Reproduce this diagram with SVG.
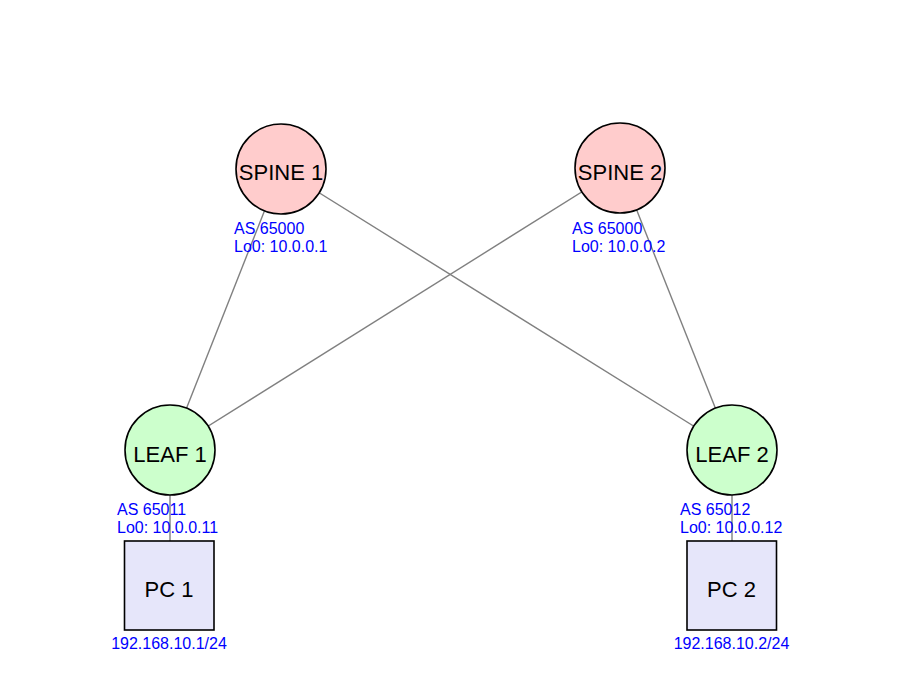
<svg xmlns="http://www.w3.org/2000/svg" width="900" height="675" viewBox="0 0 900 675">
<style>
.edge{stroke:#808080;stroke-width:1.4;fill:none}
.node{stroke:#000;stroke-width:1.6}
.spine{fill:#ffcccc}
.leaf{fill:#ccffcc}
.pc{fill:#e6e6fa}
.lbl{font-family:"Liberation Sans",Arial,sans-serif;font-size:22px;fill:#000;text-anchor:middle}
.info{font-family:"Liberation Sans",Arial,sans-serif;font-size:16px;fill:#0000ff}
</style>
<rect width="900" height="675" fill="#fff"/>
<g id="connectors">
<line class="edge" x1="281" y1="169" x2="170" y2="450"/>
<line class="edge" x1="281" y1="169" x2="732" y2="450"/>
<line class="edge" x1="620" y1="168" x2="170" y2="450"/>
<line class="edge" x1="620" y1="168" x2="732" y2="450"/>
<line class="edge" x1="170" y1="450" x2="170" y2="541"/>
<line class="edge" x1="732" y1="450" x2="732" y2="541"/>
</g>
<g id="spine1">
<circle class="node spine" cx="281" cy="169" r="45"/>
<text class="lbl" x="281" y="180">SPINE 1</text>
<text class="info" x="234" y="234">AS 65000</text>
<text class="info" x="234" y="252">Lo0: 10.0.0.1</text>
</g>
<g id="spine2">
<circle class="node spine" cx="620" cy="168" r="45"/>
<text class="lbl" x="620" y="180">SPINE 2</text>
<text class="info" x="572" y="234">AS 65000</text>
<text class="info" x="572" y="252">Lo0: 10.0.0.2</text>
</g>
<g id="leaf1">
<circle class="node leaf" cx="170" cy="450" r="45"/>
<text class="lbl" x="170" y="462">LEAF 1</text>
<text class="info" x="117" y="515">AS 65011</text>
<text class="info" x="117" y="533">Lo0: 10.0.0.11</text>
</g>
<g id="leaf2">
<circle class="node leaf" cx="732" cy="450" r="45"/>
<text class="lbl" x="732" y="462">LEAF 2</text>
<text class="info" x="680" y="515">AS 65012</text>
<text class="info" x="680" y="533">Lo0: 10.0.0.12</text>
</g>
<g id="pc1">
<rect class="node pc" x="124.5" y="541" width="89.5" height="89"/>
<text class="lbl" x="169" y="597">PC 1</text>
<text class="info" x="169" y="649" text-anchor="middle">192.168.10.1/24</text>
</g>
<g id="pc2">
<rect class="node pc" x="687" y="541" width="89.5" height="89"/>
<text class="lbl" x="731.5" y="597">PC 2</text>
<text class="info" x="731.5" y="649" text-anchor="middle">192.168.10.2/24</text>
</g>
</svg>
